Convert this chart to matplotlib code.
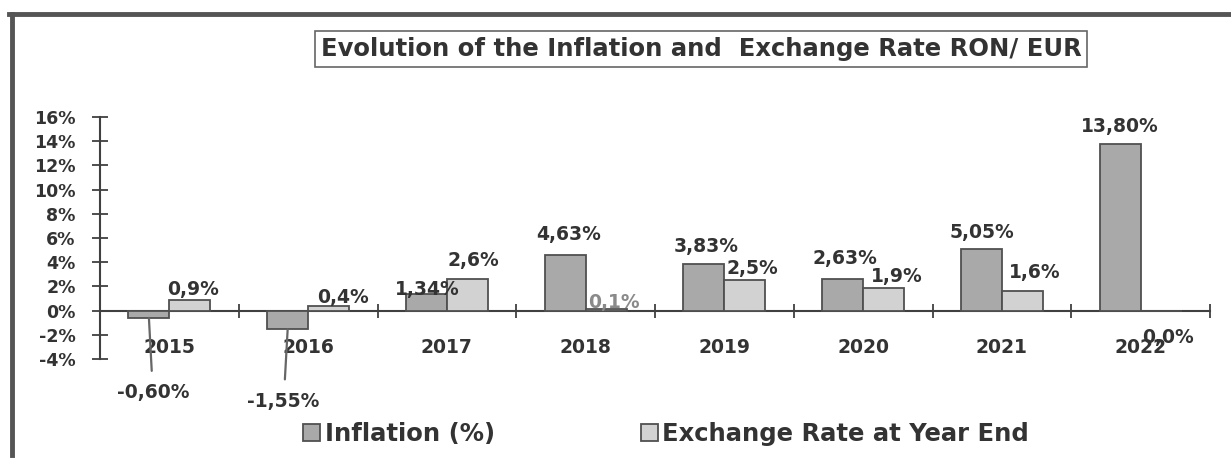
import matplotlib
matplotlib.use("Agg")
import matplotlib.pyplot as plt
from matplotlib.lines import Line2D

years = ["2015", "2016", "2017", "2018", "2019", "2020", "2021", "2022"]
inflation = [-0.60, -1.55, 1.34, 4.63, 3.83, 2.63, 5.05, 13.80]
exchange = [0.9, 0.4, 2.6, 0.1, 2.5, 1.9, 1.6, 0.0]
y_ticks = [-4, -2, 0, 2, 4, 6, 8, 10, 12, 14, 16]

# label nudges in pixels (dx, dy) from the bar end
infl_off = [(4, -75), (-4, -72), (1, 5), (3, 20), (2, 18), (2, 20), (1, 17), (0, 17)]
exch_off = [(3, 10), (14, 8), (6, 19), (8, 7), (8, 12), (13, 11), (12, 19), (7, -27)]

plt.rcParams['font.family'] = ['DejaVu Sans']
plt.rcParams['font.weight'] = 'bold'

W, H = 1231, 459
fig = plt.figure(figsize=(W / 100, H / 100), dpi=100)
ax = fig.add_axes([100 / W, 1 - 359 / H, 1110 / W, 242 / H])

bw = 0.295
x = list(range(len(years)))
b1 = ax.bar([i - bw / 2 for i in x], inflation, bw, color='#a9a9a9',
            edgecolor='#505050', linewidth=1.3, label='Inflation (%)', zorder=3)
b2 = ax.bar([i + bw / 2 for i in x], exchange, bw, color='#d2d2d2',
            edgecolor='#505050', linewidth=1.3, label='Exchange Rate at Year End', zorder=3)

ax.set_xlim(-0.5, len(years) - 0.5)
ax.set_ylim(-4, 16)

# axes: only left spine and a bottom spine moved to zero
for s in ['top', 'right']:
    ax.spines[s].set_visible(False)
ax.spines['left'].set_color('#404040')
ax.spines['left'].set_linewidth(1.5)
ax.spines['bottom'].set_position(('data', 0))
ax.spines['bottom'].set_color('#404040')
ax.spines['bottom'].set_linewidth(1.5)

ax.set_yticks(y_ticks)
ax.set_yticklabels([f"{t}%" for t in y_ticks])
ax.tick_params(axis='y', direction='inout', length=11, width=1.3, color='#404040',
               labelsize=12.5, labelcolor='#333333', pad=12)

ax.set_xticks([i + 0.5 for i in x])
ax.set_xticklabels([])
ax.tick_params(axis='x', which='major', direction='inout', length=10, width=1.3, color='#404040')
ax.set_xticks(x, minor=True)
ax.set_xticklabels(years, minor=True)
ax.tick_params(axis='x', which='minor', length=0, pad=20, labelsize=13.5, labelcolor='#333333')

txt = dict(ha='center', va='center', fontsize=13.5, fontweight='bold',
           textcoords='offset pixels')
for rect, v, (dx, dy) in zip(b1, inflation, infl_off):
    xc = rect.get_x() + rect.get_width() / 2
    lab = f"{v:.2f}%".replace('.', ',')
    if v < 0:
        ax.annotate(lab, (xc, v), xytext=(dx, dy), color='#333333',
                    arrowprops=dict(arrowstyle='-', color='#666666', lw=1.6,
                                    shrinkA=7, shrinkB=0), **txt)
    else:
        ax.annotate(lab, (xc, v), xytext=(dx, dy), color='#333333', **txt)

for i, (rect, v, (dx, dy)) in enumerate(zip(b2, exchange, exch_off)):
    xc = rect.get_x() + rect.get_width() / 2
    lab = f"{v:.1f}%".replace('.', ',')
    col = '#8a8a8a' if i == 3 else '#333333'
    ax.annotate(lab, (xc, v), xytext=(dx, dy), color=col, **txt)

# title in a box
fig.text(701 / W, 1 - 49 / H, "Evolution of the Inflation and  Exchange Rate RON/ EUR",
         ha='center', va='center', fontsize=17.5, fontweight='bold', color='#333333',
         bbox=dict(boxstyle='square,pad=0.25', facecolor='white', edgecolor='#666666', lw=1.2))

leg = fig.legend(handles=[b1, b2], loc='center', bbox_to_anchor=(666 / W, 1 - 434 / H),
                 ncol=2, frameon=False, fontsize=17.5, handlelength=0.7, handleheight=0.65,
                 handletextpad=0.2, columnspacing=6.0, borderpad=0)
for t in leg.get_texts():
    t.set_color('#333333')
    t.set_fontweight('bold')

# frame lines at top and left
fig.add_artist(Line2D([9 / W, 1], [1 - 14 / H, 1 - 14 / H], color='#555555', lw=3.5))
fig.add_artist(Line2D([12 / W, 12 / W], [1 - 14 / H, 1 - 455 / H], color='#555555', lw=3.5))

fig.savefig("out.png", dpi=100)
